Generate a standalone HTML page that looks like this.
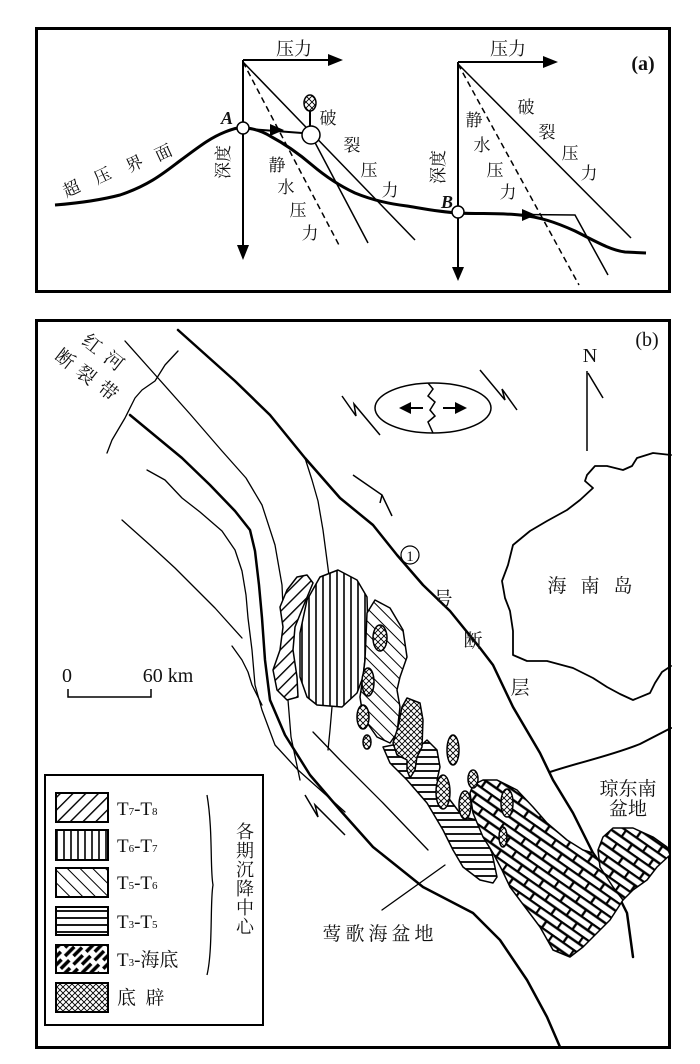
<!DOCTYPE html>
<html><head><meta charset="utf-8"><style>
html,body{margin:0;padding:0;background:#fff;}
svg{display:block;}
.cn{font-family:"Liberation Serif","Noto Serif CJK SC",serif;fill:#111;}
.lt{font-family:"Liberation Serif",serif;fill:#111;}
</style></head><body>
<svg width="700" height="1064" viewBox="0 0 700 1064" xmlns="http://www.w3.org/2000/svg">
<defs>
<pattern id="p78" patternUnits="userSpaceOnUse" width="9" height="9" patternTransform="rotate(45)"><rect width="9" height="9" fill="#fff"/><line x1="0" y1="0" x2="0" y2="9" stroke="#000" stroke-width="2.8"/></pattern>
<pattern id="p67" patternUnits="userSpaceOnUse" width="7" height="7"><rect width="7" height="7" fill="#fff"/><line x1="1" y1="0" x2="1" y2="7" stroke="#000" stroke-width="1.6"/></pattern>
<pattern id="p56" patternUnits="userSpaceOnUse" width="9" height="9" patternTransform="rotate(-45)"><rect width="9" height="9" fill="#fff"/><line x1="0" y1="0" x2="0" y2="9" stroke="#000" stroke-width="2"/></pattern>
<pattern id="p35" patternUnits="userSpaceOnUse" width="7" height="7"><rect width="7" height="7" fill="#fff"/><line x1="0" y1="1" x2="7" y2="1" stroke="#000" stroke-width="1.8"/></pattern>
<pattern id="pbr" patternUnits="userSpaceOnUse" width="26" height="16" patternTransform="rotate(35)"><rect width="26" height="16" fill="#fff"/><line x1="0" y1="1" x2="26" y2="1" stroke="#000" stroke-width="2.4"/><line x1="0" y1="9" x2="26" y2="9" stroke="#000" stroke-width="2.4"/><line x1="1" y1="1" x2="1" y2="9" stroke="#000" stroke-width="2.4"/><line x1="14" y1="9" x2="14" y2="16" stroke="#000" stroke-width="2.4"/></pattern>
<pattern id="pdp" patternUnits="userSpaceOnUse" width="6" height="6"><rect width="6" height="6" fill="#fff"/><path d="M0,0L6,6M6,0L0,6" stroke="#000" stroke-width="0.9"/></pattern>
<pattern id="pbrL" patternUnits="userSpaceOnUse" width="18" height="12" patternTransform="rotate(-45)"><rect width="18" height="12" fill="#fff"/><line x1="0" y1="2" x2="13" y2="2" stroke="#000" stroke-width="3.5"/><line x1="6" y1="8" x2="18" y2="8" stroke="#000" stroke-width="3.5"/></pattern>
</defs>

<!-- PANEL A -->
<rect x="36.5" y="28.5" width="633" height="263" fill="none" stroke="#000" stroke-width="3"/>
<text class="lt" x="643" y="70" font-size="20" font-weight="bold" text-anchor="middle">(a)</text>

<path d="M55,205 C80,203 101,200 120,195 C150,185 165,172 181,160 C200,146 210,138 225,132 C235,128 240,127 247,128 C255,129 262,131 270,136 C285,144 298,153 312,165 C325,176 340,186 355,193 C372,200 390,204 407,206 C425,209 440,212 458,213 C480,214 500,213 520,215 C540,217 555,222 575,231 C595,241 610,250 625,252 L646,253" fill="none" stroke="#000" stroke-width="3"/>

<line x1="243" y1="60" x2="243" y2="246" stroke="#000" stroke-width="2"/>
<path d="M237,245 L249,245 L243,260 z" fill="#000"/>
<line x1="243" y1="60" x2="330" y2="60" stroke="#000" stroke-width="2"/>
<path d="M328,54 L343,60 L328,66 z" fill="#000"/>
<text class="cn" x="294" y="55" font-size="18" text-anchor="middle">压力</text>
<line x1="243" y1="62" x2="340" y2="247" stroke="#000" stroke-width="1.5" stroke-dasharray="6,4"/>
<line x1="243" y1="62" x2="415" y2="240" stroke="#000" stroke-width="1.5"/>
<line x1="311" y1="135" x2="368" y2="243" stroke="#000" stroke-width="1.5"/>
<line x1="249" y1="129" x2="302" y2="133" stroke="#000" stroke-width="2"/>
<path d="M270,124 L284,130 L270,136 z" fill="#000"/>
<circle cx="243" cy="128" r="6" fill="#fff" stroke="#000" stroke-width="1.5"/>
<circle cx="311" cy="135" r="9" fill="#fff" stroke="#000" stroke-width="1.5"/>
<line x1="310" y1="110" x2="310" y2="126" stroke="#000" stroke-width="2"/>
<ellipse cx="310" cy="103" rx="6" ry="8" fill="url(#pdp)" stroke="#000" stroke-width="1.5"/>
<text class="lt" x="227" y="124" font-size="18" font-style="italic" font-weight="bold" text-anchor="middle">A</text>
<g class="cn" font-size="17" text-anchor="middle">
<text x="328" y="124">破</text><text x="352" y="151">裂</text><text x="369" y="176">压</text><text x="390" y="196">力</text>
<text x="277" y="171">静</text><text x="286" y="193">水</text><text x="298" y="216">压</text><text x="310" y="239">力</text>
<text transform="translate(229,162) rotate(-90)">深度</text>
<text transform="translate(74,194) rotate(-25)">超</text>
<text transform="translate(105,181) rotate(-25)">压</text>
<text transform="translate(137,169) rotate(-25)">界</text>
<text transform="translate(166,158) rotate(-25)">面</text>
</g>

<line x1="458" y1="62" x2="458" y2="268" stroke="#000" stroke-width="2"/>
<path d="M452,267 L464,267 L458,281 z" fill="#000"/>
<line x1="458" y1="62" x2="545" y2="62" stroke="#000" stroke-width="2"/>
<path d="M543,56 L558,62 L543,68 z" fill="#000"/>
<text class="cn" x="508" y="55" font-size="18" text-anchor="middle">压力</text>
<line x1="458" y1="64" x2="579" y2="285" stroke="#000" stroke-width="1.5" stroke-dasharray="6,4"/>
<line x1="458" y1="64" x2="631" y2="238" stroke="#000" stroke-width="1.5"/>
<polyline points="464,214 575,215 608,275" fill="none" stroke="#000" stroke-width="1.5"/>
<path d="M522,209 L536,215 L522,221 z" fill="#000"/>
<circle cx="458" cy="212" r="6" fill="#fff" stroke="#000" stroke-width="1.5"/>
<text class="lt" x="447" y="208" font-size="18" font-style="italic" font-weight="bold" text-anchor="middle">B</text>
<g class="cn" font-size="17" text-anchor="middle">
<text x="474" y="126">静</text><text x="482" y="151">水</text><text x="495" y="176">压</text><text x="508" y="198">力</text>
<text x="526" y="113">破</text><text x="547" y="138">裂</text><text x="570" y="159">压</text><text x="589" y="179">力</text>
<text transform="translate(444,167) rotate(-90)">深度</text>
</g>

<!-- PANEL B -->
<rect x="36.5" y="320.5" width="633" height="727" fill="none" stroke="#000" stroke-width="3"/>
<text class="lt" x="647" y="346" font-size="20" text-anchor="middle">(b)</text>
<text class="lt" x="590" y="362" font-size="20" text-anchor="middle">N</text>
<line x1="587" y1="371" x2="587" y2="451" stroke="#000" stroke-width="1.5"/>
<line x1="588" y1="373" x2="603" y2="398" stroke="#000" stroke-width="1.5"/>

<g class="cn" font-size="19" text-anchor="middle">
<text transform="translate(88,349) rotate(38)">红</text>
<text transform="translate(110,366) rotate(38)">河</text>
<text transform="translate(61,364) rotate(38)">断</text>
<text transform="translate(82,380) rotate(38)">裂</text>
<text transform="translate(104,396) rotate(38)">带</text>
</g>

<ellipse cx="433" cy="408" rx="58" ry="25" fill="none" stroke="#000" stroke-width="1.5"/>
<polyline points="428,383 433,389 428,396 435,402 430,410 435,416 428,422 433,433" fill="none" stroke="#000" stroke-width="1.5"/>
<line x1="410" y1="408" x2="423" y2="408" stroke="#000" stroke-width="2"/>
<path d="M411,402 L399,408 L411,414 z" fill="#000"/>
<line x1="443" y1="408" x2="456" y2="408" stroke="#000" stroke-width="2"/>
<path d="M455,402 L467,408 L455,414 z" fill="#000"/>

<g fill="none" stroke="#000" stroke-width="1.5">
<polyline points="342,396 356,416 354,404 380,435"/>
<polyline points="480,370 505,400 502,389 517,410"/>
<polyline points="353,475 382,495 392,516"/>
<polyline points="382,495 380,503"/>
<polyline points="305,795 318,817 315,805 345,835"/>
</g>

<g fill="none" stroke="#000" stroke-linejoin="round" stroke-linecap="round">
<path d="M178,330 L235,381 L270,415 L305,458 L340,498 L373,525 L397,555 L423,585 L450,611 L480,648 L493,665 L513,707 L540,753 L553,780 L573,813 L593,853 L607,873 L617,893 L627,913 L633,957" stroke-width="2.5"/>
<path d="M125,341 L158,378 L190,414 L222,451 L246,478 L262,505 L275,545 L282,585 L285,651 L288,700 L291,737 L300,780" stroke-width="1.3"/>
<path d="M178,351 L165,365 L155,381 L142,390 L135,398 L125,418 L112,440 L107,453" stroke-width="1.3"/>
<path d="M130,415 L182,458 L210,485 L235,511 L250,530 L255,551 L259,585 L262,618 L265,660 L270,700 L285,735 L310,775 L340,810 L373,847 L423,887 L473,913 L500,940 L527,980 L547,1017 L560,1047" stroke-width="2.5"/>
<path d="M147,470 L165,480 L182,498 L200,512 L222,531 L235,550 L242,571 L246,595 L248,618 L252,650 L255,685 L262,710 L275,745 L298,770 L335,803 L345,812" stroke-width="1.3"/>
<path d="M122,520 L150,545 L175,568 L215,608 L242,638" stroke-width="1.3"/>
<path d="M232,646 L242,660 L248,672 L252,685 L262,705" stroke-width="1.3"/>
<path d="M305,458 L312,480 L318,501 L323,530 L328,568 L332,600" stroke-width="1.3"/>
<path d="M332,707 L330,730 L328,750" stroke-width="1.3"/>
<path d="M313,732 L340,760 L383,803 L428,850" stroke-width="1.3"/>
<path d="M382,910 L445,865" stroke-width="1.3"/>
<path d="M550,772 C580,762 610,756 640,744 L671,728" stroke-width="2"/>
<path d="M671,455 L653,453 L637,458 L632,466 L623,470 L607,466 L595,466 L587,475 L585,481 L593,488 L580,500 L567,510 L547,521 L530,531 L513,545 L508,565 L502,581 L505,598 L510,611 L513,631 L513,655 L527,661 L547,661 L573,668 L593,678 L607,687 L620,694 L633,700 L650,693 L655,683 L662,672 L671,666" stroke-width="1.8"/>
</g>

<g stroke="#000" stroke-width="1.5" stroke-linejoin="round">
<path d="M307,575 L313,583 L303,607 L295,627 L293,650 L297,677 L298,697 L287,700 L277,690 L273,670 L280,650 L283,627 L280,607 L287,590 L297,577 Z" fill="url(#p78)"/>
<path d="M338,570 L357,580 L367,597 L368,633 L363,677 L357,693 L342,707 L317,705 L307,697 L300,677 L300,633 L307,600 L320,577 Z" fill="url(#p67)"/>
<path d="M375,600 L390,608 L403,630 L407,657 L400,677 L397,690 L400,707 L397,733 L390,743 L377,737 L363,717 L360,697 L363,677 L365,660 L367,613 Z" fill="url(#p56)"/>
<path d="M383,747 L393,745 L407,758 L427,740 L437,750 L440,767 L437,780 L450,800 L463,817 L477,820 L483,833 L492,853 L497,877 L493,883 L480,880 L463,867 L453,850 L443,830 L427,803 L407,780 L390,763 Z" fill="url(#p35)"/>
<path d="M473,785 L483,780 L497,780 L517,790 L533,807 L547,823 L567,840 L583,850 L593,853 L603,867 L617,887 L623,900 L610,920 L597,933 L583,947 L570,957 L553,950 L540,927 L525,907 L510,887 L502,870 L493,853 L483,837 L473,813 L470,793 Z" fill="url(#pbr)"/>
<path d="M603,837 L613,828 L633,828 L653,837 L667,847 L670,855 L657,867 L647,880 L633,890 L623,900 L613,887 L600,867 L598,850 Z" fill="url(#pbr)"/>
<g fill="url(#pdp)">
<ellipse cx="380" cy="638" rx="7" ry="13"/>
<ellipse cx="368" cy="682" rx="6" ry="14"/>
<ellipse cx="363" cy="717" rx="6" ry="12"/>
<ellipse cx="367" cy="742" rx="4" ry="7"/>
<path d="M407,698 L420,703 L423,720 L422,747 L417,757 L415,770 L410,778 L407,770 L407,760 L397,755 L393,743 L398,727 L402,707 Z"/>
<ellipse cx="453" cy="750" rx="6" ry="15"/>
<ellipse cx="443" cy="792" rx="7" ry="17"/>
<ellipse cx="465" cy="805" rx="6" ry="14"/>
<ellipse cx="473" cy="779" rx="5" ry="9"/>
<ellipse cx="507" cy="803" rx="6" ry="14"/>
<ellipse cx="503" cy="837" rx="4" ry="10"/>
</g>
</g>

<circle cx="410" cy="555" r="9" fill="#fff" stroke="#000" stroke-width="1.2"/>
<text class="lt" x="410" y="561" font-size="15" text-anchor="middle">1</text>
<g class="cn" font-size="19" text-anchor="middle">
<text x="443" y="605">号</text>
<text x="473" y="647">断</text>
<text x="520" y="694">层</text>
<text x="557" y="592">海</text><text x="590" y="592">南</text><text x="623" y="592">岛</text>
<text x="628" y="795">琼东南</text>
<text x="628" y="815">盆地</text>
<text x="380" y="940" letter-spacing="4">莺歌海盆地</text>
</g>

<text class="lt" x="67" y="682" font-size="20" text-anchor="middle">0</text>
<text class="lt" x="168" y="682" font-size="20" text-anchor="middle">60 km</text>
<polyline points="68,689 68,697 151,697 151,689" fill="none" stroke="#000" stroke-width="1.5"/>

<rect x="45" y="775" width="218" height="250" fill="#fff" stroke="#000" stroke-width="2"/>
<g stroke="#000" stroke-width="2">
<rect x="56" y="793" width="52" height="29" fill="url(#p78)"/>
<rect x="56" y="830" width="52" height="30" fill="url(#p67)"/>
<rect x="56" y="868" width="52" height="29" fill="url(#p56)"/>
<rect x="56" y="907" width="52" height="28" fill="url(#p35)"/>
<rect x="56" y="945" width="52" height="28" fill="url(#pbrL)"/>
<rect x="56" y="983" width="52" height="29" fill="url(#pdp)"/>
</g>
<g class="cn" font-size="19">
<text x="117" y="815">T<tspan font-size="11">7</tspan>-T<tspan font-size="11">8</tspan></text>
<text x="117" y="852">T<tspan font-size="11">6</tspan>-T<tspan font-size="11">7</tspan></text>
<text x="117" y="889">T<tspan font-size="11">5</tspan>-T<tspan font-size="11">6</tspan></text>
<text x="117" y="928">T<tspan font-size="11">3</tspan>-T<tspan font-size="11">5</tspan></text>
<text x="117" y="966">T<tspan font-size="11">3</tspan>-海底</text>
<text x="117" y="1004">底 &#160;辟</text>
</g>
<path d="M207,795 C213,830 210,870 213,885 C210,900 213,950 207,975" fill="none" stroke="#000" stroke-width="1.3"/>
<g class="cn" font-size="18" text-anchor="middle">
<text x="245" y="838">各</text><text x="245" y="857">期</text><text x="245" y="876">沉</text><text x="245" y="895">降</text><text x="245" y="914">中</text><text x="245" y="933">心</text>
</g>
</svg>
</body></html>
